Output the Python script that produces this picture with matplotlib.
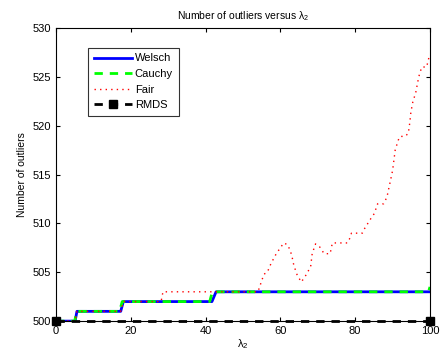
import matplotlib
matplotlib.use('Agg')
import matplotlib.pyplot as plt

plt.rcParams['font.family'] = ['Liberation Sans', 'DejaVu Sans']
plt.rcParams['mathtext.fontset'] = 'custom'
plt.rcParams['mathtext.rm'] = 'Liberation Sans'
plt.rcParams['mathtext.it'] = 'Liberation Sans'

# breakpoints (lambda_2, number of outliers)
lam_welsch = [0, 5.1, 5.6, 17.3, 18.0, 41.7, 42.8, 100]
welsch = [500, 500, 501, 501, 502, 502, 503, 503]

lam_cauchy = [0, 5.0, 5.5, 17.0, 17.7, 41.1, 41.8, 99.6, 100]
cauchy = [500, 500, 501, 501, 502, 502, 503, 503, 503.5]

lam_fair = [0, 5.1, 5.6, 17.3, 18.0, 28.1, 28.6, 54.0, 55.6, 56.5, 57.5, 58.9,
            60.9, 62.0, 63.0, 63.6, 64.5, 65.6, 67.0, 68.1, 68.5, 69.4, 70.5,
            71.7, 73.3, 73.9, 77.9, 78.6, 79.0, 81.9, 82.4, 84.2, 85.1, 86.0,
            87.6, 88.5, 90.0, 90.7, 91.5, 92.0, 93.3, 94.2, 94.6, 94.9, 95.4,
            96.2, 97.0, 97.8, 99.1, 99.8, 100]
fair = [500, 500, 501, 501, 502, 502, 503, 503, 504.8, 505.0, 505.9, 506.9,
        508.0, 507.8, 506.8, 505.7, 504.7, 504.0, 504.8, 505.6, 506.9, 507.9, 507.6,
        506.9, 506.9, 508.0, 508.0, 508.5, 509.0, 509.0, 509.4, 510.5, 511.0, 512.0,
        512.0, 512.7, 515.4, 517.5, 518.5, 518.9, 518.9, 519.2, 520.3, 521.4, 522.4,
        523.4, 525.0, 526.0, 526.0, 527.1, 527.3]

lam_rmds = [0, 100]
rmds = [500, 500]

fig = plt.figure(figsize=(4.41, 3.58), dpi=100)
ax = fig.add_axes([0.127, 0.103, 0.848, 0.819])

ax.plot(lam_welsch, welsch, color='#0000ff', lw=2, label='Welsch')
ax.plot(lam_cauchy, cauchy, color='#00ff00', lw=2, ls=(0, (3, 2.5)), label='Cauchy')
ax.plot(lam_fair, fair, color='#ff0000', lw=1, ls=(0, (1, 3)), label='Fair')
ax.plot(lam_rmds, rmds, color='black', lw=2, ls=(0, (3, 2.5)), marker='s',
        markersize=6, label='RMDS', clip_on=False, zorder=5)

ax.set_xlim(0, 100)
ax.set_ylim(500, 530)
ax.set_xticks(range(0, 101, 20))
ax.set_yticks(range(500, 531, 5))
ax.tick_params(direction='in', top=True, right=True, labelsize=8, length=3)

ax.set_title(r'Number of outliers versus $\lambda_2$', fontsize=7.5)
ax.set_xlabel(r'$\lambda_2$', fontsize=8, labelpad=1)
ax.set_ylabel('Number of outliers', fontsize=7.5)

leg = ax.legend(loc='upper left', bbox_to_anchor=(0.086, 0.932), fontsize=8,
                frameon=True, fancybox=False, edgecolor='black',
                handlelength=3.4, borderpad=0.5, labelspacing=0.5,
                handletextpad=0.3, borderaxespad=0)
leg.get_frame().set_linewidth(0.8)

plt.savefig('out.png', dpi=100)
